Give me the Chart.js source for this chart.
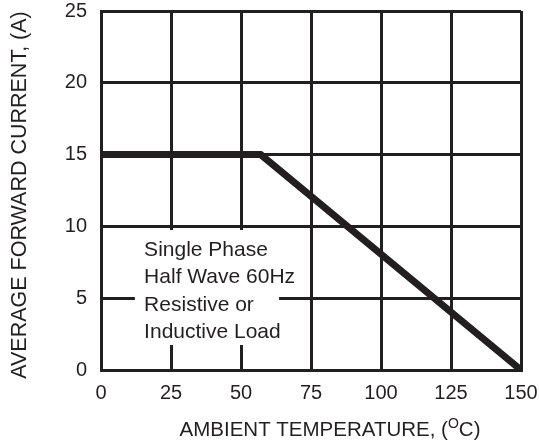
<!DOCTYPE html>
<html>
<head>
<meta charset="utf-8">
<script src="https://cdn.jsdelivr.net/npm/chart.js@4"></script>
<style>
  html, body { margin: 0; padding: 0; background: #fff; }
  canvas { display: block; }
</style>
</head>
<body>
<canvas id="derating" width="539" height="448"></canvas>
<script>
// derating curve
const tempC = [0, 57, 150];
const currentA = [15, 15, 0];

const xTicks = [0, 25, 50, 75, 100, 125, 150];
const yTicks = [0, 5, 10, 15, 20, 25];

const xTitle = 'AMBIENT TEMPERATURE, (';
const yTitle = 'AVERAGE FORWARD CURRENT, (A)';
const noteLines = ['Single Phase', 'Half Wave 60Hz', 'Resistive or', 'Inductive Load'];

const INK = '#231f20';
const FONT = '"Liberation Sans", Arial, sans-serif';

// note box in data units: [x0, x1, yTop, yBottom], text anchor [x, firstBaseline]
const noteBox = [12.1, 63.6, 9.75, 1.74];
const noteAnchor = [15.4, 7.96];

const labelsPlugin = {
    id: 'labels',
    beforeDatasetsDraw(chart) {
        const c = chart.ctx;
        const x = chart.scales.x, y = chart.scales.y;
        const x0 = x.getPixelForValue(noteBox[0]);
        const x1 = x.getPixelForValue(noteBox[1]);
        const y0 = y.getPixelForValue(noteBox[2]);
        const y1 = y.getPixelForValue(noteBox[3]);
        c.save();
        c.fillStyle = '#fff';
        c.fillRect(x0, y0, x1 - x0, y1 - y0);
        c.fillStyle = INK;
        c.font = '21px ' + FONT;
        c.textBaseline = 'alphabetic';
        c.textAlign = 'left';
        const tx = x.getPixelForValue(noteAnchor[0]);
        let ty = y.getPixelForValue(noteAnchor[1]);
        noteLines.forEach(line => {
            c.fillText(line, tx, ty);
            ty += 27.6;
        });
        c.restore();
    },
    afterDraw(chart) {
        const c = chart.ctx;
        c.save();
        c.fillStyle = INK;
        c.textBaseline = 'alphabetic';
        c.textAlign = 'left';

        // x title with superscript O
        c.font = '20.5px ' + FONT;
        const w1 = c.measureText(xTitle).width;
        c.font = '14px ' + FONT;
        const wSup = c.measureText('O').width;
        c.font = '20.5px ' + FONT;
        const w2 = c.measureText('C)').width;
        let sx = 330 - (w1 + wSup + w2) / 2;
        const base = 436;
        c.fillText(xTitle, sx, base);
        sx += w1;
        c.font = '14px ' + FONT;
        c.fillText('O', sx, base - 8);
        sx += wSup;
        c.font = '20.5px ' + FONT;
        c.fillText('C)', sx, base);

        // y title
        c.font = '21.5px ' + FONT;
        c.translate(26, 195);
        c.rotate(-Math.PI / 2);
        c.textAlign = 'center';
        c.fillText(yTitle, 0, 0);
        c.restore();
    }
};

new Chart(document.getElementById('derating').getContext('2d'), {
    type: 'line',
    data: {
        datasets: [{
            data: tempC.map((t, i) => ({ x: t, y: currentA[i] })),
            borderColor: INK,
            borderWidth: 7,
            borderCapStyle: 'butt',
            borderJoinStyle: 'miter',
            pointRadius: 0,
            tension: 0,
            fill: false
        }]
    },
    options: {
        responsive: false,
        animation: false,
        devicePixelRatio: 1,
        layout: { padding: { top: 11, right: 18, left: 0, bottom: 0 } },
        plugins: {
            legend: { display: false },
            tooltip: { enabled: false }
        },
        scales: {
            x: {
                type: 'linear',
                min: 0,
                max: 150,
                afterBuildTicks: s => { s.ticks = xTicks.map(v => ({ value: v })); },
                afterFit: s => { s.height = 78; s.paddingLeft = 0; s.paddingRight = 0; },
                grid: { color: INK, lineWidth: 3, drawTicks: false },
                border: { display: true, color: INK, width: 3 },
                ticks: { color: INK, font: { family: FONT, size: 20 }, padding: 11, maxRotation: 0 }
            },
            y: {
                type: 'linear',
                min: 0,
                max: 25,
                afterBuildTicks: s => { s.ticks = yTicks.map(v => ({ value: v })); },
                afterFit: s => { s.width = 101; s.paddingTop = 0; s.paddingBottom = 0; },
                grid: { color: INK, lineWidth: 3, drawTicks: false },
                border: { display: true, color: INK, width: 3 },
                ticks: { color: INK, font: { family: FONT, size: 20 }, padding: 14 }
            }
        }
    },
    plugins: [labelsPlugin]
});
</script>
</body>
</html>
